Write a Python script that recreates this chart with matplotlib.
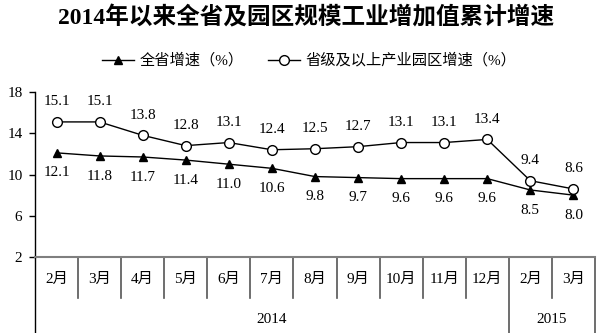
import matplotlib
matplotlib.use('Agg')
import matplotlib.pyplot as plt

plt.rcParams['font.family'] = ['Liberation Serif', 'Noto Sans CJK SC']

# 数据
months = ['2月', '3月', '4月', '5月', '6月', '7月', '8月', '9月', '10月', '11月', '12月', '2月', '3月']
years = ['2014', '2015']
year_span = [(0, 10), (11, 12)]
quan_sheng = [12.1, 11.8, 11.7, 11.4, 11.0, 10.6, 9.8, 9.7, 9.6, 9.6, 9.6, 8.5, 8.0]
yuan_qu = [15.1, 15.1, 13.8, 12.8, 13.1, 12.4, 12.5, 12.7, 13.1, 13.1, 13.4, 9.4, 8.6]

fig = plt.figure(figsize=(6.02, 3.33), dpi=100)
ax = fig.add_axes([0.0581, 0.2282, 0.9302, 0.4955])

x = list(range(len(months)))
ax.plot(x, quan_sheng, color='black', lw=1.0, marker='^', markersize=6,
        markerfacecolor='black', markeredgecolor='black', label='全省增速（%）')
ax.plot(x, yuan_qu, color='black', lw=1.0, marker='o', markersize=7,
        markerfacecolor='white', markeredgecolor='black', label='省级及以上产业园区增速（%）')

for i in x:
    ax.annotate(f'{yuan_qu[i]:.1f}', (i, yuan_qu[i]), xytext=(0, 14.5), textcoords='offset points',
                ha='center', va='center', fontsize=11)
    ax.annotate(f'{quan_sheng[i]:.1f}', (i, quan_sheng[i]), xytext=(0, -14.5), textcoords='offset points',
                ha='center', va='center', fontsize=11)

ax.set_xlim(-0.5, len(months) - 0.5)
ax.set_ylim(2, 18)
ax.set_yticks([2, 6, 10, 14, 18])
ax.tick_params(axis='y', direction='out', length=4, width=1, labelsize=11, pad=5)
ax.set_xticks([])
for s in ['top', 'right']:
    ax.spines[s].set_visible(False)
ax.spines['left'].set_linewidth(1.0)
ax.spines['bottom'].set_color('#7f7f7f')
ax.spines['bottom'].set_linewidth(1.5)

# 两级横轴
trans = ax.get_xaxis_transform()
long_sep = [-0.5] + [b + 0.5 for a, b in year_span]
for i in range(len(months) + 1):
    xs = i - 0.5
    if xs in long_sep:
        if xs == -0.5:
            continue
        ax.plot([xs, xs], [0, -0.47], transform=trans, color='#555555', lw=1.2, clip_on=False)
    else:
        ax.plot([xs, xs], [0, -0.2467], transform=trans, color='#555555', lw=1.2, clip_on=False)
for i, m in enumerate(months):
    ax.text(i, -0.1333, m, transform=trans, ha='center', va='center', fontsize=11)
for yr, (a, b) in zip(years, year_span):
    ax.text((a + b) / 2, -0.3758, yr, transform=trans, ha='center', va='center', fontsize=11)
ax.spines['left'].set_bounds(2, 18)
ax.plot([-0.5, -0.5], [0, -0.47], transform=trans, color='black', lw=1.0, clip_on=False)

fig.text(0.508, 0.945, '2014年以来全省及园区规模工业增加值累计增速', ha='center', va='center',
         fontsize=17, fontweight='bold')
fig.legend(loc='center', bbox_to_anchor=(0.514, 0.818), ncol=2, frameon=False, fontsize=11,
           handlelength=2.1, columnspacing=1.6, handletextpad=0.35)

fig.savefig('out.png', dpi=100)
